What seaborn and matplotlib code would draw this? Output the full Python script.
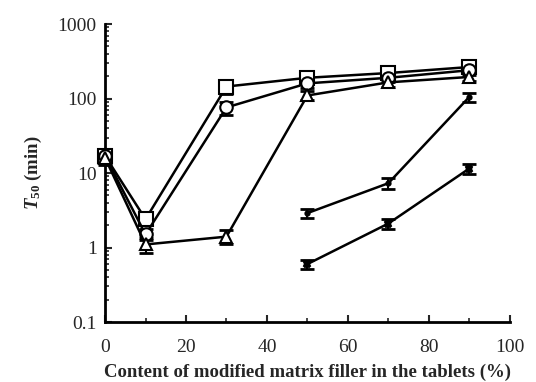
import numpy as np
import pandas as pd
import matplotlib
matplotlib.use("Agg")
import matplotlib.pyplot as plt
import seaborn as sns
from matplotlib.ticker import LogLocator, FixedLocator, NullFormatter

sns.set_style("ticks")
plt.rcParams['font.family'] = ['Liberation Serif', 'DejaVu Serif']
plt.rcParams['mathtext.fontset'] = 'custom'
plt.rcParams['mathtext.rm'] = 'Liberation Serif:bold'
plt.rcParams['mathtext.it'] = 'Liberation Serif:italic:bold'
plt.rcParams['mathtext.bf'] = 'Liberation Serif:bold'

# data
x_full = [0, 10, 30, 50, 70, 90]
sq = [17, 2.4, 145, 190, 220, 265]
sq_err = [3, 0.4, 30, 25, 30, 40]
ci = [17, 1.5, 76, 160, 190, 240]
ci_err = [3, 0.25, 15, 20, 25, 30]
tr = [16, 1.1, 1.4, 110, 165, 195]
tr_err = [3, 0.25, 0.3, 15, 20, 25]
x_part = [50, 70, 90]
s4 = [2.9, 7.3, 105]
s4_err = [0.4, 1.2, 15]
s5 = [0.6, 2.1, 11.5]
s5_err = [0.08, 0.35, 1.8]

fig = plt.figure(figsize=(5.36, 3.82), dpi=100)
ax = fig.add_axes([0.196, 0.157, 0.755, 0.78])

series = [
    (x_full, sq, sq_err, 's', 'white', 10),
    (x_full, ci, ci_err, 'o', 'white', 9),
    (x_full, tr, tr_err, '^', 'white', 9),
    (x_part, s4, s4_err, 'o', 'black', 3),
    (x_part, s5, s5_err, 'X', 'black', 5),
]
for xs, ys, es, m, fc, ms in series:
    df = pd.DataFrame({'x': xs, 'y': ys})
    eb = ax.errorbar(xs, ys, yerr=es, fmt='none', ecolor='black', elinewidth=1.5,
                     capsize=5, capthick=2, zorder=2)
    for art in eb.lines[1] + eb.lines[2]:
        art.set_clip_on(False)
    sns.lineplot(data=df, x='x', y='y', ax=ax, color='black', linewidth=1.8,
                 marker=m, markersize=ms, markerfacecolor=fc,
                 markeredgecolor='black', markeredgewidth=1.5, zorder=3,
                 clip_on=False)

ax.set_yscale('log')
ax.set_ylim(0.1, 1000)
ax.set_xlim(0, 100)
ax.set_xticks([0, 20, 40, 60, 80, 100])
ax.xaxis.set_minor_locator(FixedLocator([10, 30, 50, 70, 90]))
ax.set_yticks([0.1, 1, 10, 100, 1000])
ax.set_yticklabels(['0.1', '1', '10', '100', '1000'])
ax.yaxis.set_minor_locator(LogLocator(base=10, subs=np.arange(2, 10)))
ax.yaxis.set_minor_formatter(NullFormatter())
ax.tick_params(axis='both', which='major', direction='in', length=5, width=1.5,
               labelsize=14)
ax.tick_params(axis='x', which='major', pad=12)
ax.tick_params(axis='y', which='major', pad=6)
ax.tick_params(axis='both', which='minor', direction='in', length=3, width=1.2)
for s in ['top', 'right']:
    ax.spines[s].set_visible(False)
for s in ['left', 'bottom']:
    ax.spines[s].set_linewidth(2)
    ax.spines[s].set_color('black')

ax.set_xlabel('Content of modified matrix filler in the tablets (%)',
              fontsize=13.5, fontweight='bold', labelpad=6)
ax.set_ylabel(r'$T_{50}$ (min)', fontsize=13.5, fontweight='bold', labelpad=10)

fig.savefig('out.png', dpi=100)
